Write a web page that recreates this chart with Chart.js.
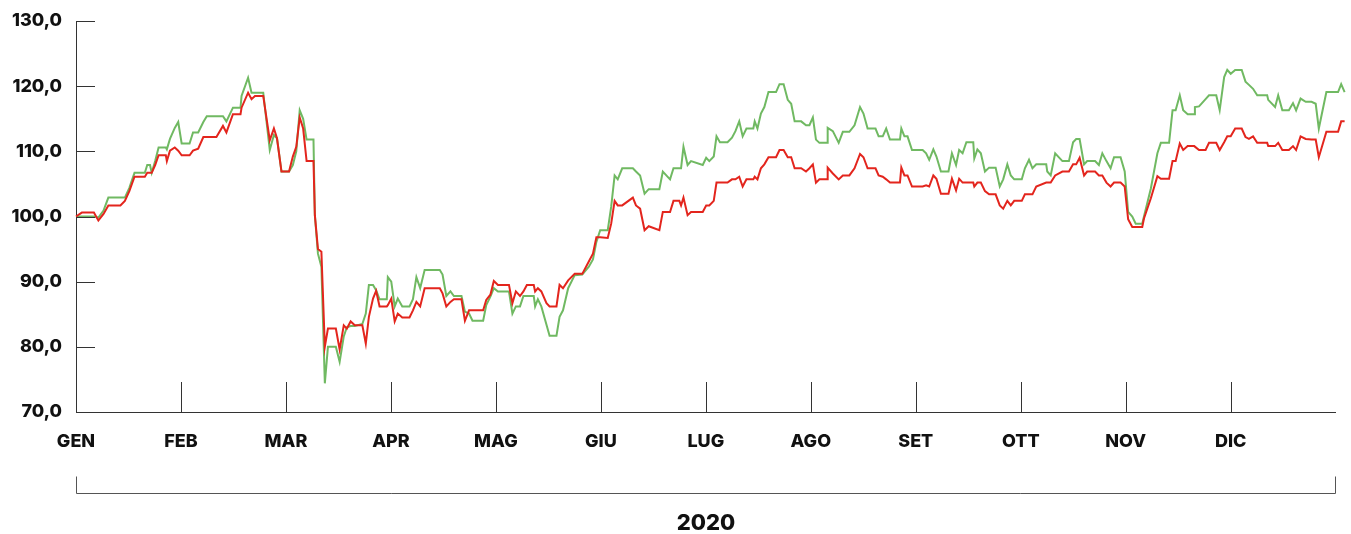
<!DOCTYPE html>
<html>
<head>
<meta charset="utf-8">
<script src="https://cdn.jsdelivr.net/npm/chart.js@4/dist/chart.umd.min.js"></script>
<style>
  body { margin: 0; background: #fff; }
  #wrap { width: 1351px; height: 534px; position: relative; }
</style>
</head>
<body>
<div id="wrap"><canvas id="myChart"></canvas></div>
<script>
// mesi (asse x equispaziato, 30.5 "giorni" per mese)
const months = ['GEN', 'FEB', 'MAR', 'APR', 'MAG', 'GIU', 'LUG', 'AGO', 'SET', 'OTT', 'NOV', 'DIC'];
const yearLabel = '2020';
const yTicks = [70, 80, 90, 100, 110, 120, 130];

// posizione lungo l'anno (giorni) dei punti letti
const days = [
  0, 1.7, 5.2, 6.5, 8, 9.4, 12.9, 14.2, 15.5, 17, 20, 20.7, 21.5, 22, 23, 24, 26.1, 26.4, 27.3, 28.7,
  29.7, 30.7, 33, 34, 35.5, 37, 38, 40.8, 42.7, 43.7, 45.6, 47.8, 48.1, 50, 51, 52, 54.4, 56.3, 57.5, 58.4,
  59.7, 61.9, 63, 64, 65, 66, 67, 69, 69.4, 70.3, 71.3, 72.3, 73.2, 75.5, 76.6, 77.8, 78.7, 79.8, 81, 83.2,
  84.2, 85.1, 86.3, 87.2, 88.2, 90.3, 90.6, 91.6, 92.6, 93.5, 94.8, 96.9, 97.9, 98.9, 100, 101.3, 105.7, 106.5, 107.6, 108.8,
  109.8, 112, 113, 114.2, 115.2, 118.3, 119.2, 120.4, 121.4, 122.6, 125.8, 126.8, 127.8, 129, 130, 131, 133, 133.4, 134.2, 135.2,
  136.7, 137.6, 139.6, 140.5, 141.5, 143, 144.9, 147.1, 149, 150.2, 151.2, 152.3, 154.5, 155.5, 156.5, 157.4, 158.7, 161.8, 162.7, 163.9,
  165.2, 166.4, 169.5, 170.5, 172.6, 173.6, 175.3, 175.8, 176.5, 177.7, 178.7, 182.1, 183.1, 184, 185.3, 186.1, 187.1, 189.3, 190.6, 191.6,
  192.7, 193.7, 194.8, 196.8, 197.2, 198, 199, 200, 201.2, 203.4, 204.4, 205.6, 206.8, 207.8, 208.8, 210.7, 212.1, 213.1, 214.1, 215,
  216, 218.3, 218.4, 219.9, 221.6, 222.8, 224.7, 226.2, 227.8, 228.8, 230, 232.3, 233.2, 234.4, 235.4, 236.5, 239.4, 239.8, 240.7, 241.6,
  242.9, 246, 247, 247.9, 249.1, 250, 251.3, 253.5, 254.5, 255.7, 256.6, 257.6, 258.7, 260.7, 261, 261.9, 262.9, 264.1, 265.3, 267.2,
  268.4, 269.4, 270.6, 271.6, 272.6, 274.8, 275.7, 276.9, 277.9, 279, 281.9, 282.2, 283.2, 284.5, 286.6, 288.5, 289.7, 290.6, 291.6, 292.9,
  293.8, 296.1, 297.2, 298.2, 299.4, 300.6, 301.6, 303.5, 304.7, 305.7, 306.9, 307.9, 309.8, 310.3, 312.3, 314.2, 315.2, 317.6, 318.6, 319.5,
  320.7, 321.7, 323, 324.9, 325.1, 326.3, 328.2, 329.2, 331.3, 332.3, 333.6, 334.5, 335.5, 336.8, 338.7, 339.8, 340.8, 342, 343.2, 346.1,
  346.4, 348.4, 349.3, 350.5, 352.4, 353.6, 354.5, 355.8, 357.3, 359, 360.2, 361.1, 363.3, 366.7, 367.6, 368.6
];

const green = [
  100, 100, 100, 99.85, 100.9, 102.9, 102.9, 102.9, 104.4, 106.7, 106.7, 107.9, 107.9, 106.7, 108.5, 110.6, 110.6, 110.3, 111.9, 113.6,
  114.5, 111.2, 111.2, 112.9, 112.9, 114.5, 115.4, 115.4, 115.4, 114.6, 116.7, 116.7, 118.5, 121.3, 119, 119, 119, 110.2, 112.5, 112,
  106.9, 106.9, 107.9, 110, 116.3, 115, 111.8, 111.8, 100.2, 94.3, 92.3, 74.4, 80, 80, 77.7, 81.6, 83, 83.2, 83.2, 83.5,
  85.1, 89.5, 89.5, 88.7, 87.3, 87.3, 90.7, 90, 86.2, 87.4, 86.2, 86.2, 87.3, 90.7, 89, 91.8, 91.8, 91.1, 87.8, 88.5,
  87.8, 87.8, 85.4, 85.1, 84, 84, 86.4, 87.7, 89, 88.5, 88.5, 85.1, 86.2, 86.2, 87.8, 87.8, 87.8, 86.2, 87.3, 86.2,
  83.4, 81.7, 81.7, 84.6, 85.6, 89, 91, 91.1, 92.3, 93.4, 96.1, 97.9, 97.9, 101.5, 106.3, 105.7, 107.4, 107.4, 106.9, 106.3,
  103.5, 104.2, 104.2, 106.9, 105.7, 107.4, 107.4, 107.4, 110.7, 107.9, 108.5, 107.9, 109, 108.5, 109.2, 112.3, 111.4, 111.4, 112.1, 113.1,
  114.6, 112.3, 113.5, 113.5, 114.6, 113.5, 115.8, 116.8, 119.1, 119.1, 120.3, 120.3, 117.9, 117.3, 114.6, 114.6, 114, 114, 115.2, 111.8,
  111.3, 111.3, 113.6, 113.1, 111.3, 113, 113, 114, 116.8, 115.8, 113.5, 113.5, 112.3, 112.3, 113.5, 111.8, 111.8, 113.5, 112.3, 112.3,
  110.2, 110.2, 109.7, 108.7, 110.3, 109.2, 106.9, 106.9, 109.7, 107.9, 110.2, 109.7, 111.4, 111.4, 108.9, 110.3, 109.7, 106.9, 107.5, 107.5,
  104.6, 105.7, 108, 106.3, 105.7, 105.7, 107.4, 108.7, 107.4, 108, 108, 106.9, 106.3, 109.7, 108.5, 108.5, 111.4, 111.9, 111.9, 108,
  108.5, 108.5, 107.9, 109.7, 108.5, 107.4, 109.1, 109.1, 106.9, 100.7, 100, 98.9, 98.9, 100, 104.3, 109.7, 111.3, 111.3, 116.3, 116.3,
  118.6, 116.3, 115.7, 115.7, 116.8, 116.9, 118, 118.6, 118.6, 116.3, 121.4, 122.5, 121.9, 122.5, 122.5, 120.7, 120.2, 119.6, 118.6, 118.6,
  117.9, 116.8, 118.6, 116.3, 116.3, 117.4, 116.3, 118.1, 117.6, 117.6, 117.3, 113.5, 119.1, 119.1, 120.3, 119.1
];

const red = [
  100, 100.6, 100.6, 99.4, 100.4, 101.7, 101.7, 102.4, 103.9, 106.1, 106.1, 106.7, 106.7, 106.7, 107.9, 109.4, 109.4, 108.5, 110.1, 110.6,
  110.1, 109.4, 109.4, 110.1, 110.4, 112.2, 112.2, 112.2, 113.9, 112.9, 115.7, 115.7, 116.7, 119, 118, 118.5, 118.5, 111.7, 113.5, 112,
  106.9, 106.9, 109.2, 110.7, 115.2, 113.5, 108.5, 108.5, 100.2, 95, 94.6, 80, 82.8, 82.8, 79.6, 83.3, 82.8, 83.9, 83.3, 83.3,
  80.5, 84.6, 87.4, 88.6, 86.2, 86.2, 86.4, 87.4, 83.9, 85.1, 84.5, 84.5, 85.6, 86.9, 86.2, 89, 89, 88.2, 86.2, 86.9,
  87.3, 87.3, 84, 85.6, 85.6, 85.6, 87.2, 88, 90.1, 89.5, 89.5, 86.7, 88.5, 87.8, 88.5, 89.5, 89.5, 88.5, 89, 88.5,
  86.7, 86.2, 86.2, 89.5, 89, 90.2, 91.2, 91.2, 93.1, 94.3, 96.8, 96.8, 96.7, 98.9, 102.4, 101.7, 101.7, 102.9, 101.7, 101.2,
  97.9, 98.5, 97.9, 100.7, 100.7, 102.4, 102.4, 101.7, 102.9, 100.2, 100.7, 100.7, 101.7, 101.7, 102.4, 105.2, 105.2, 105.2, 105.7, 105.7,
  106.1, 104.6, 105.7, 105.7, 106.1, 105.7, 107.4, 108, 109.1, 109.1, 110.2, 110.2, 109.1, 109.1, 107.4, 107.4, 106.9, 107.4, 108, 105.2,
  105.7, 105.7, 107.5, 106.6, 105.7, 106.3, 106.3, 107.4, 109.6, 109.1, 107.4, 107.4, 106.3, 106.1, 105.7, 105.2, 105.2, 107.5, 106.3, 106.3,
  104.6, 104.6, 104.8, 104.6, 106.3, 105.8, 103.5, 103.5, 105.8, 104, 105.8, 105.2, 105.2, 105.2, 104.6, 105.2, 105.2, 103.9, 103.4, 103.4,
  101.7, 101.2, 102.4, 101.7, 102.4, 102.4, 103.4, 103.4, 103.4, 104.6, 105.2, 105.2, 105.2, 106.3, 106.9, 106.9, 108, 108, 109, 106.3,
  106.9, 106.9, 106.3, 106.3, 105.2, 104.6, 105.2, 105.2, 104.6, 99.6, 98.4, 98.4, 98.4, 99.7, 102.8, 106.2, 105.8, 105.8, 108.5, 108.5,
  111.2, 110.2, 110.8, 110.8, 110.8, 110.2, 110.2, 111.3, 111.3, 110.2, 111.4, 112.3, 112.3, 113.5, 113.5, 112.2, 111.9, 112.3, 111.3, 111.3,
  110.8, 110.8, 111.3, 110.2, 110.2, 110.8, 110.2, 112.3, 111.9, 111.8, 111.8, 109.1, 113, 113, 114.6, 114.6
];

const daysPerMonth = 30.5;
const yearEnd = 366;
const fontMain = "'Inter', 'Liberation Sans', sans-serif";
const inkColor = '#111111';
const lineColor = '#333333';

// assi, tacche, parentesi e anno
const axisMarks = {
  id: 'axisMarks',
  afterDraw(chart) {
    const ctx = chart.ctx;
    const area = chart.chartArea;
    const x = chart.scales.x;
    const y = chart.scales.y;
    const xEnd = Math.round(x.getPixelForValue(yearEnd));
    ctx.save();
    ctx.strokeStyle = lineColor;
    ctx.lineWidth = 1;
    // linea asse x (finisce a fine anno)
    ctx.beginPath();
    ctx.moveTo(area.left, Math.round(area.bottom) + 0.5);
    ctx.lineTo(xEnd, Math.round(area.bottom) + 0.5);
    ctx.stroke();
    // tacche orizzontali asse y
    yTicks.forEach(v => {
      const py = Math.round(y.getPixelForValue(v)) + 0.5;
      ctx.beginPath();
      ctx.moveTo(area.left, py);
      ctx.lineTo(area.left + 19, py);
      ctx.stroke();
    });
    // tacche verticali dei mesi
    for (let k = 1; k < months.length; k++) {
      const px = Math.round(x.getPixelForValue(k * daysPerMonth)) + 0.5;
      ctx.beginPath();
      ctx.moveTo(px, area.bottom);
      ctx.lineTo(px, area.bottom - 30);
      ctx.stroke();
    }
    // parentesi sotto l'anno
    const by = Math.round(area.bottom) + 81.5;
    ctx.strokeStyle = '#555555';
    ctx.beginPath();
    ctx.moveTo(area.left + 0.5, by - 17);
    ctx.lineTo(area.left + 0.5, by);
    ctx.lineTo(xEnd - 0.5, by);
    ctx.lineTo(xEnd - 0.5, by - 17);
    ctx.stroke();
    ctx.fillStyle = inkColor;
    ctx.font = "800 22px " + fontMain;
    ctx.textAlign = 'center';
    ctx.textBaseline = 'middle';
    ctx.fillText(yearLabel, (area.left + xEnd) / 2, by + 30);
    ctx.restore();
  }
};

const ctx = document.getElementById('myChart').getContext('2d');
const chart = new Chart(ctx, {
  type: 'line',
  data: {
    labels: days,
    datasets: [{
      label: 'rosso',
      data: red,
      borderColor: '#e3251d',
      borderWidth: 2,
      pointRadius: 0,
      tension: 0,
      clip: false
    }, {
      label: 'verde',
      data: green,
      borderColor: '#70b962',
      borderWidth: 2,
      pointRadius: 0,
      tension: 0,
      clip: false
    }]
  },
  options: {
    responsive: true,
    maintainAspectRatio: false,
    animation: false,
    layout: { padding: { top: 21, right: 5, left: 0, bottom: 0 } },
    plugins: { legend: { display: false }, tooltip: { enabled: false } },
    scales: {
      x: {
        type: 'linear',
        min: 0,
        max: 369,
        afterBuildTicks: scale => {
          scale.ticks = months.map((m, i) => ({ value: i * daysPerMonth }));
        },
        afterFit: scale => {
          scale.height = 122;
          scale.paddingLeft = 0;
          scale.paddingRight = 0;
        },
        grid: { drawOnChartArea: false, drawTicks: false },
        border: { display: false },
        ticks: {
          autoSkip: false,
          maxRotation: 0,
          padding: 19,
          color: inkColor,
          font: { family: fontMain, size: 18, weight: '800' },
          callback: (v, i) => months[i]
        }
      },
      y: {
        min: 70,
        max: 130,
        afterBuildTicks: scale => {
          scale.ticks = yTicks.map(v => ({ value: v }));
        },
        afterFit: scale => {
          scale.width = 76;
          scale.paddingTop = 0;
          scale.paddingBottom = 0;
        },
        grid: { drawOnChartArea: false, drawTicks: false },
        border: { display: true, color: lineColor, width: 1 },
        ticks: {
          padding: 14,
          color: inkColor,
          font: { family: fontMain, size: 18, weight: '800' },
          callback: v => v.toFixed(1).replace('.', ',')
        }
      }
    }
  },
  plugins: [axisMarks]
});
</script>
</body>
</html>
